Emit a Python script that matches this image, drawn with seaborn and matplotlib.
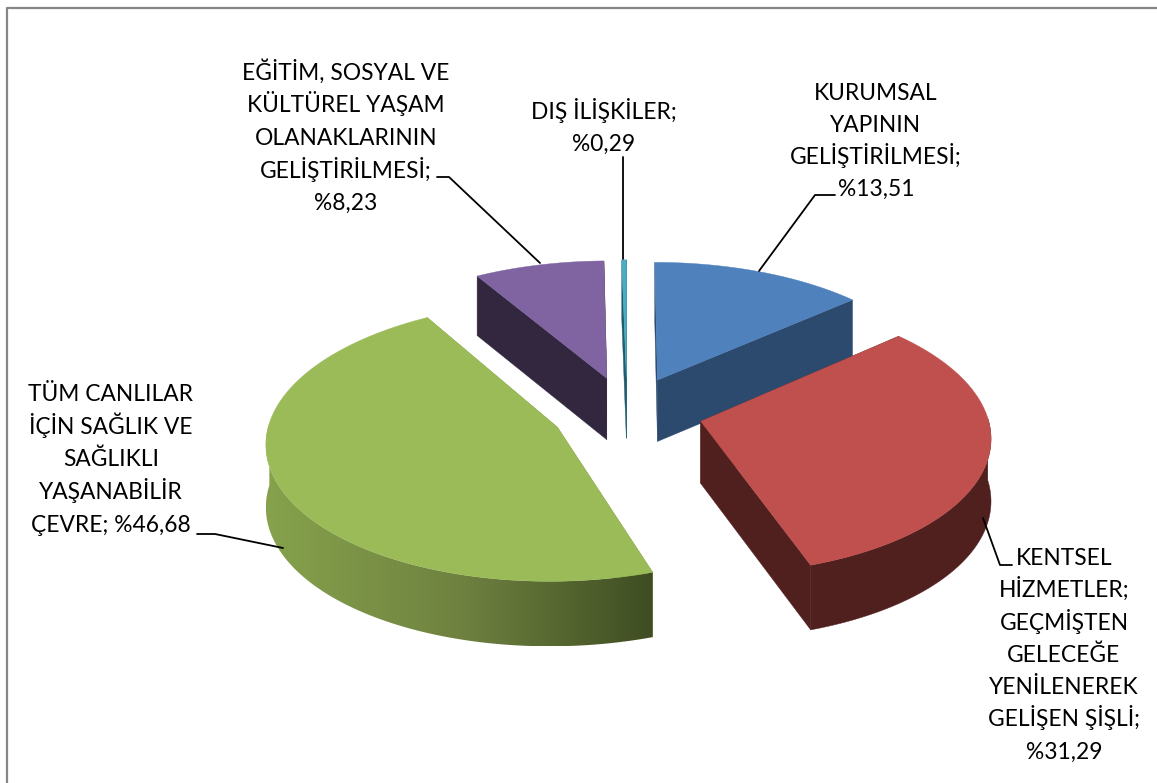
import numpy as np
import matplotlib
matplotlib.use("Agg")
import matplotlib.pyplot as plt
from matplotlib.colors import LinearSegmentedColormap
from matplotlib.patches import Polygon
import seaborn as sns

# dilimler, saat yonunde, en ustten baslayarak
etiketler = [
    ["KURUMSAL", "YAPININ", "GELİŞTİRİLMESİ;", "%13,51"],
    ["KENTSEL", "HİZMETLER;", "GEÇMİŞTEN", "GELECEĞE", "YENİLENEREK", "GELİŞEN ŞİŞLİ;", "%31,29"],
    ["TÜM CANLILAR", "İÇİN SAĞLIK VE", "SAĞLIKLI", "YAŞANABİLİR", "ÇEVRE; %46,68"],
    ["EĞİTİM, SOSYAL VE", "KÜLTÜREL YAŞAM", "OLANAKLARININ", "GELİŞTİRİLMESİ;", "%8,23"],
    ["DIŞ İLİŞKİLER;", "%0,29"],
]
degerler = [13.51, 31.29, 46.68, 8.23, 0.29]
renk_ust = ["#4F81BD", "#C0504D", "#9BBB59", "#8064A2", "#4BACC6"]
renk_yan = ["#2C4A6E", "#4F201E", "#7F9B48", "#32273F", "#1F5C6E"]

sns.set_style("white")
plt.rcParams["font.family"] = ["Lato", "DejaVu Sans"]

# pikselde perspektif ayarlari
CX, CY = 627, 412
RX, RY = 286, 135.5
DERINLIK = 62
PATLAMA = 0.265
PERS = 0.10


def izdus(x, y, z=0.0):
    x, y = np.asarray(x, float), np.asarray(y, float)
    s = 1 / (1 + PERS * y)
    return CX + RX * x * s, CY - RY * y * s + DERINLIK * z * s ** 0.4


def dilim_ciz(ax, bas, bit, ust, yan, z, gradyan=None):
    orta = (bas + bit) / 2
    ox, oy = PATLAMA * np.sin(orta), PATLAMA * np.cos(orta)
    t = np.linspace(bas, bit, 240)
    kx, ky = ox + np.sin(t), oy + np.cos(t)

    # kesim yuzleri
    for a in (bas, bit):
        xs = np.array([ox, ox + np.sin(a)])
        ys = np.array([oy, oy + np.cos(a)])
        x1, y1 = izdus(xs, ys)
        x2, y2 = izdus(xs, ys, 1)
        ax.fill(np.r_[x1, x2[::-1]], np.r_[y1, y2[::-1]], color=yan, lw=0.3, zorder=z)

    # dis duvar, sadece one bakan kisim
    on = np.cos(t) < 0.03
    if on.any():
        x1, y1 = izdus(kx[on], ky[on])
        x2, y2 = izdus(kx[on], ky[on], 1)
        kose = np.c_[np.r_[x1, x2[::-1]], np.r_[y1, y2[::-1]]]
        if gradyan is None:
            ax.fill(kose[:, 0], kose[:, 1], color=yan, lw=0.3, zorder=z + 0.1)
        else:
            # yatay renk gecisi, duvar sekline kirpilir
            cm = LinearSegmentedColormap.from_list("duvar", gradyan)
            sol, sag = kose[:, 0].min(), kose[:, 0].max()
            resim = ax.imshow(np.linspace(0, 1, 256)[None, :], cmap=cm, aspect="auto",
                              extent=(sol, sag, kose[:, 1].max(), kose[:, 1].min()),
                              zorder=z + 0.1, interpolation="bilinear")
            resim.set_clip_path(Polygon(kose, transform=ax.transData))

    # ust yuz
    ux, uy = izdus(np.r_[ox, kx], np.r_[oy, ky])
    ax.fill(ux, uy, color=ust, lw=0.3, zorder=z + 0.2)


fig = plt.figure(figsize=(11.57, 7.83), dpi=100)
ax = fig.add_axes([0, 0, 1, 1])

# cerceve (ust ve sol)
ax.plot([7, 7, 1157], [783, 8, 8], color="#868686", lw=1.6, zorder=0)

acilar = 2 * np.pi * np.r_[0, np.cumsum(degerler)] / np.sum(degerler)
yesil_gecis = ["#86A24C", "#6F8240", "#3F4D22"]
sira = [3, 4, 0, 2, 1]
for k, i in enumerate(sira):
    dilim_ciz(ax, acilar[i], acilar[i + 1], renk_ust[i], renk_yan[i], 2 + k,
              gradyan=yesil_gecis if i == 2 else None)

ax.set_xlim(0, 1157)
ax.set_ylim(783, 0)
ax.axis("off")


# matplotlib satir araligi harfe gore oynuyor, satirlari tek tek yaz
def etiket(satirlar, x, y, aralik):
    for j, satir in enumerate(satirlar):
        ax.text(x, y + j * aralik, satir, ha="center", va="baseline", fontsize=16.4,
                color="black", zorder=20)


etiket(etiketler[0], 876, 100, 32)
etiket(etiketler[1], 1064, 565, 32.3)
etiket(etiketler[2], 111, 401, 32.7)
etiket(etiketler[3], 346, 80, 32.5)
etiket(etiketler[4], 604, 119, 31.5)

# kilavuz cizgileri
cizgi = dict(color="black", lw=1.3, zorder=15)
ax.plot([835, 815, 759], [195, 195, 271], **cizgi)
ax.plot([1012, 1000, 983], [565, 565, 518], **cizgi)
ax.plot([197, 215, 283], [534, 534, 548], **cizgi)
ax.plot([437, 449, 540], [177, 177, 263], **cizgi)
ax.plot([623, 623], [157, 259], **cizgi)

fig.savefig("out.png", dpi=100, facecolor="white")
plt.close(fig)
